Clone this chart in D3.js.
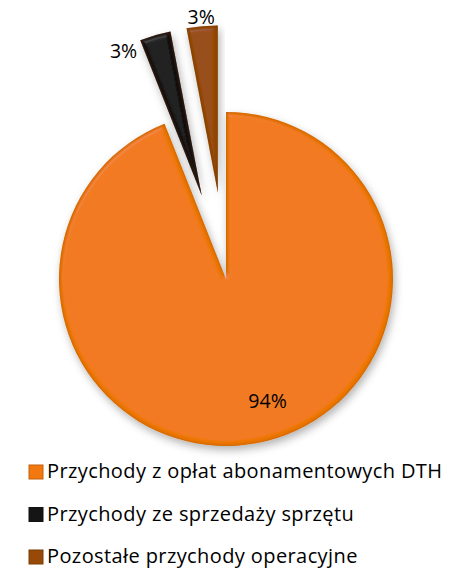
<!DOCTYPE html>
<html>
<head>
<meta charset="utf-8">
<script src="https://cdn.jsdelivr.net/npm/d3@7"></script>
<style>
  body { margin: 0; background: #fff; }
  svg { display: block; }
</style>
</head>
<body>
<div class="chart"></div>
<script>
// data
var categories = ["Przychody z opłat abonamentowych DTH", "Przychody ze sprzedaży sprzętu", "Pozostałe przychody operacyjne"];
var values = [94, 3, 3];
var labels = ["94%", "3%", "3%"];

const width = 450;
const height = 577;
const cx = 226, cy = 279;
const radius = 167;

var colors = ["#f0780f", "#151515", "#974a08"];
var explode = [0, 87, 87];
// label placement: radius from centre and angle shift (degrees)
var labelR = [129, 250, 263];
var labelShift = [-8, -8, 0];

var svg = d3.select(".chart")
    .append("svg")
    .attr("width", width)
    .attr("height", height);

var defs = svg.append("defs");

// bevel + soft shadow
var f = defs.append("filter")
    .attr("id", "bevel")
    .attr("x", "-20%").attr("y", "-20%")
    .attr("width", "140%").attr("height", "140%");
f.append("feGaussianBlur").attr("in", "SourceAlpha").attr("stdDeviation", 4).attr("result", "sblur");
f.append("feOffset").attr("in", "sblur").attr("dx", 2).attr("dy", 4).attr("result", "soff");
f.append("feFlood").attr("flood-color", "#000").attr("flood-opacity", 0.3).attr("result", "scol");
f.append("feComposite").attr("in", "scol").attr("in2", "soff").attr("operator", "in").attr("result", "shadow");
// inner dark rim
f.append("feGaussianBlur").attr("in", "SourceAlpha").attr("stdDeviation", 2).attr("result", "ablur");
f.append("feComposite").attr("in", "SourceAlpha").attr("in2", "ablur").attr("operator", "out").attr("result", "rim");
f.append("feFlood").attr("flood-color", "#4a2200").attr("flood-opacity", 0.6).attr("result", "rimcol");
f.append("feComposite").attr("in", "rimcol").attr("in2", "rim").attr("operator", "in").attr("result", "rimdark");
// light highlight
f.append("feSpecularLighting").attr("in", "ablur").attr("surfaceScale", 3)
    .attr("specularConstant", 0.5).attr("specularExponent", 30)
    .attr("lighting-color", "#fff").attr("result", "spec")
    .append("feDistantLight").attr("azimuth", 235).attr("elevation", 50);
f.append("feComposite").attr("in", "spec").attr("in2", "SourceAlpha").attr("operator", "in").attr("result", "specin");
f.append("feComposite").attr("in", "SourceGraphic").attr("in2", "specin")
    .attr("operator", "arithmetic").attr("k1", 0).attr("k2", 1).attr("k3", 0.12).attr("k4", 0).attr("result", "lit");
var fm = f.append("feMerge");
fm.append("feMergeNode").attr("in", "shadow");
fm.append("feMergeNode").attr("in", "lit");
fm.append("feMergeNode").attr("in", "rimdark");

var pie = d3.pie().sort(null).value(d => d);
var arcs = pie(values);

var arc = d3.arc().innerRadius(0).outerRadius(radius);

var g = svg.append("g").attr("transform", "translate(" + cx + "," + cy + ")");

g.selectAll("path.slice")
    .data(arcs)
    .enter()
    .append("path")
    .attr("class", "slice")
    .attr("d", arc)
    .attr("fill", (d, i) => colors[i])
    .attr("filter", "url(#bevel)")
    .attr("transform", function (d, i) {
        var mid = (d.startAngle + d.endAngle) / 2;
        return "translate(" + (Math.sin(mid) * explode[i]) + "," + (-Math.cos(mid) * explode[i]) + ")";
    });

g.selectAll("text.lbl")
    .data(arcs)
    .enter()
    .append("text")
    .attr("class", "lbl")
    .attr("x", (d, i) => Math.sin((d.startAngle + d.endAngle) / 2 + labelShift[i] * Math.PI / 180) * labelR[i])
    .attr("y", (d, i) => -Math.cos((d.startAngle + d.endAngle) / 2 + labelShift[i] * Math.PI / 180) * labelR[i])
    .attr("dy", "0.35em")
    .attr("text-anchor", "middle")
    .style("font-family", "'Open Sans', sans-serif")
    .style("font-size", "19.5px")
    .attr("fill", "#000")
    .text((d, i) => labels[i]);

// legend
var legend = svg.append("g").attr("transform", "translate(29,465)");
var row = legend.selectAll("g")
    .data(categories)
    .enter()
    .append("g")
    .attr("transform", (d, i) => "translate(0," + (i * 42.5) + ")");

row.append("rect")
    .attr("width", 14)
    .attr("height", 14)
    .attr("fill", (d, i) => colors[i])
    .attr("stroke", (d, i) => d3.color(colors[i]).darker(0.6))
    .attr("stroke-width", 1);

row.append("text")
    .attr("x", 18)
    .attr("y", 13)
    .style("font-family", "'Open Sans', sans-serif")
    .style("font-size", "20px")
    .style("letter-spacing", "0.4px")
    .attr("fill", "#000")
    .text(d => d);
</script>
</body>
</html>
